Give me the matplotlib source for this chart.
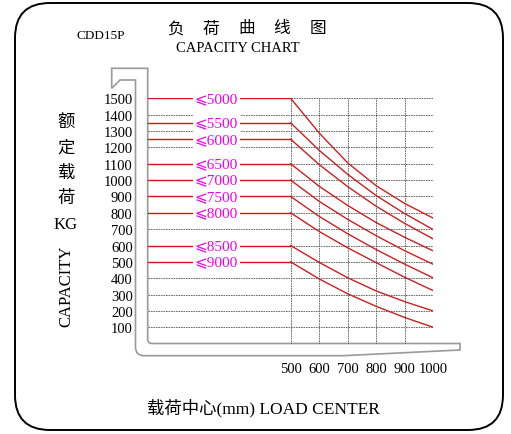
import matplotlib.pyplot as plt
from matplotlib.patches import FancyBboxPatch, PathPatch
from matplotlib.path import Path

# figure size in pixels
W, H = 511, 435

serif = ['Liberation Serif', 'Noto Sans CJK SC']
cjk = ['Noto Sans CJK SC', 'DejaVu Sans']

# load centre (mm) and capacity (kg)
load_center = [500, 600, 700, 800, 900, 1000]
lift_height = [5000, 5500, 6000, 6500, 7000, 7500, 8000, 8500, 9000]
cap_5000 = [1500, 1288, 1105, 965, 857, 767]
cap_5500 = [1350, 1182, 1035, 905, 795, 697]
cap_6000 = [1250, 1095, 960, 840, 735, 640]
cap_6500 = [1100, 962, 845, 740, 650, 567]
cap_7000 = [1000, 870, 760, 660, 568, 485]
cap_7500 = [900, 778, 672, 575, 486, 402]
cap_8000 = [800, 686, 586, 495, 406, 324]
cap_8500 = [600, 497, 403, 322, 257, 200]
cap_9000 = [500, 396, 305, 228, 160, 100]
curves = [cap_5000, cap_5500, cap_6000, cap_6500, cap_7000,
          cap_7500, cap_8000, cap_8500, cap_9000]

cap_ticks = [1500, 1400, 1300, 1200, 1100, 1000, 900, 800,
             700, 600, 500, 400, 300, 200, 100]

fig = plt.figure(figsize=(W / 100, H / 100), dpi=100)

# background axes in pixel units (y down) for frame and decorations
bg = fig.add_axes([0, 0, 1, 1])
bg.set_xlim(0, W)
bg.set_ylim(H, 0)
bg.axis('off')

frame = FancyBboxPatch((15, 4), 488, 427, boxstyle='round,pad=0,rounding_size=35',
                       fill=False, ec='black', lw=1.4)
bg.add_patch(frame)

# fork outline
verts = [(135.5, 81), (120, 81), (111.7, 89.3), (111.7, 69.3), (147.7, 69.3),
         (147.7, 340), (147.7, 344.5), (152.2, 344.5), (460, 344.5), (460, 351),
         (343, 356.7), (144, 356.7), (135.5, 356.7), (135.5, 348), (135.5, 81)]
codes = [Path.MOVETO, Path.LINETO, Path.LINETO, Path.LINETO, Path.LINETO,
         Path.LINETO, Path.CURVE3, Path.CURVE3, Path.LINETO, Path.LINETO,
         Path.LINETO, Path.LINETO, Path.CURVE3, Path.CURVE3, Path.CLOSEPOLY]
bg.add_patch(PathPatch(Path(verts, codes), fill=False, ec='#9a9a9a', lw=1.2))

bg.text(101, 36, 'CDD15P', family=serif, fontsize=9.5, ha='center', va='center')
for i, ch in enumerate('负荷曲线图'):
    bg.text(175.5 + 35.5 * i, 29, ch, family=cjk, fontsize=12, ha='center', va='center')
bg.text(238, 49, 'CAPACITY CHART', family=serif, fontsize=10.5, ha='center', va='center')

for ch, y in zip('额定载荷', [123, 148, 173, 198]):
    bg.text(66, y, ch, family=cjk, fontsize=12.5, ha='center', va='center')
bg.text(66, 225, 'KG', family=serif, fontsize=12, ha='center', va='center')
bg.text(66, 286, 'CAPACITY', family=serif, fontsize=12, rotation=90,
        ha='center', va='center')
bg.text(263, 408, '载荷中心(mm) LOAD CENTER', family=serif, fontsize=12.5,
        ha='center', va='center')

# chart axes: load centre 0..1000 mm, capacity 0..1500 kg
ax = fig.add_axes([148 / W, 1 - 344.7 / H, (433.3 - 148) / W, (344.7 - 99.3) / H])
ax.set_xlim(0, 1000)
ax.set_ylim(0, 1500)
ax.patch.set_alpha(0)
for s in ax.spines.values():
    s.set_visible(False)

grid_kw = dict(color='#555555', lw=0.6, ls=(0, (2, 1)), zorder=1)
for c in cap_ticks[1:]:
    ax.plot([0, 1000], [c, c], **grid_kw)
ax.plot([load_center[0], load_center[-1]], [cap_ticks[0]] * 2, **grid_kw)
for lc in load_center:
    ax.plot([lc, lc], [0, 1500], **grid_kw)

for h, cap in zip(lift_height, curves):
    ax.plot([0, load_center[0]], [cap[0], cap[0]], color='#e01010', lw=1.0, zorder=2)
    ax.plot(load_center, cap, color='#cc1f1f', lw=1.0, zorder=2,
            solid_joinstyle='round')
    ax.text(240, cap[0], '⩽%d' % h, color='#ee00ee', fontsize=11,
            family=['Liberation Serif', 'DejaVu Sans'], ha='center', va='center',
            bbox=dict(fc='white', ec='none', pad=1.5), zorder=3)

ax.set_yticks(cap_ticks)
ax.set_yticklabels([str(c) for c in cap_ticks], family=serif, fontsize=10.5)
ax.set_xticks(load_center)
ax.set_xticklabels([str(c) for c in load_center], family=serif, fontsize=10.5)
ax.tick_params(axis='y', length=0, pad=11)
ax.tick_params(axis='x', length=0, pad=13)

fig.savefig('out.png', dpi=100)
